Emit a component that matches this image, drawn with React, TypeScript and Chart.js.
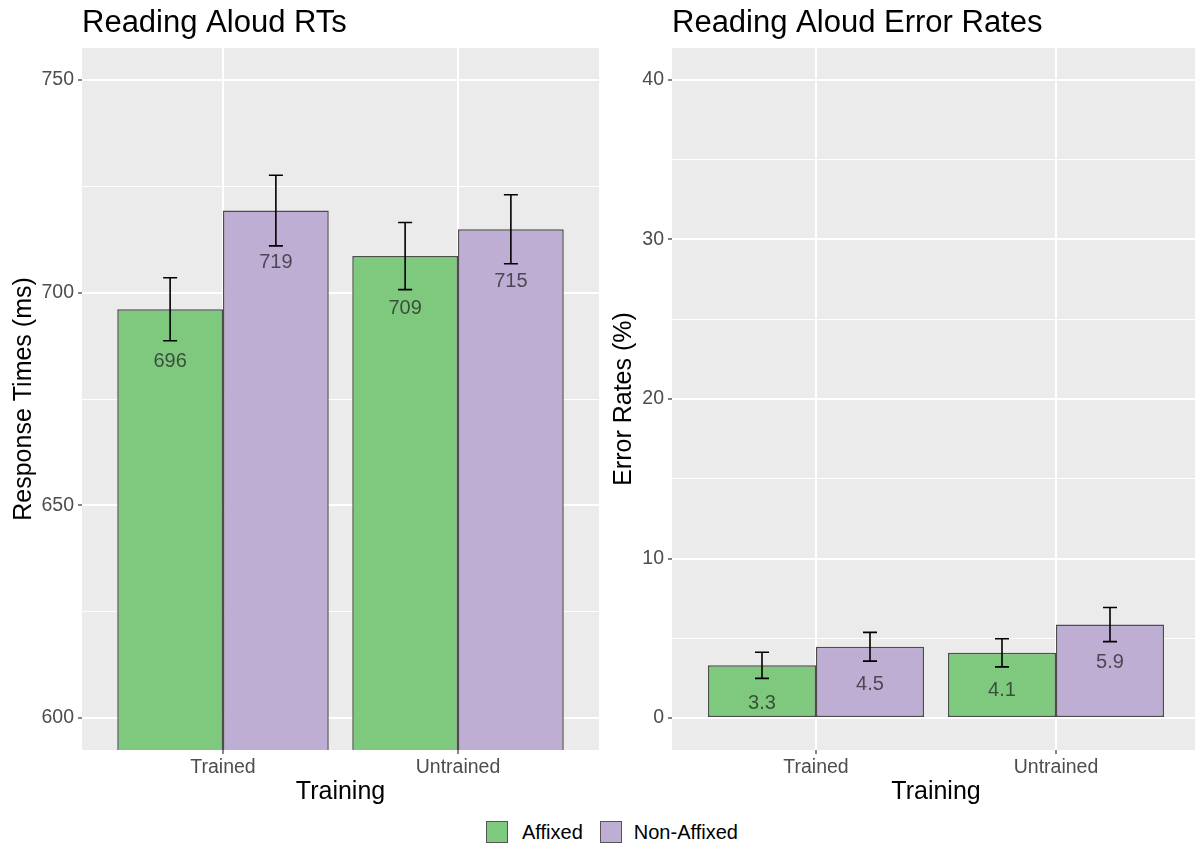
import React, { useEffect, useRef } from 'react';
import { Chart, registerables } from 'chart.js';

Chart.register(...registerables);

// ---------- data ----------
const categories = ['Trained', 'Untrained'];
const seriesNames = ['Affixed', 'Non-Affixed'];
const seriesColors = ['#7FC97F', '#BEAED4'];

const rtAffixed = [696.1, 708.6];
const rtNonAffixed = [719.3, 714.9];
const rtAffixedSE = [7.4, 7.9];
const rtNonAffixedSE = [8.3, 8.1];
const rtTicks = [600, 625, 650, 675, 700, 725, 750];
const rtMajorTicks = [600, 650, 700, 750];

const errAffixed = [3.31, 4.09];
const errNonAffixed = [4.47, 5.86];
const errAffixedSE = [0.82, 0.88];
const errNonAffixedSE = [0.9, 1.07];
const errTicks = [0, 5, 10, 15, 20, 25, 30, 35, 40];
const errMajorTicks = [0, 10, 20, 30, 40];

const FONT = "'Liberation Sans', Arial, sans-serif";

// ---------- plugins ----------
const panelBg = {
  id: 'panelBg',
  beforeDraw(chart: any) {
    const { ctx, chartArea: a } = chart;
    ctx.save();
    ctx.fillStyle = '#EBEBEB';
    ctx.fillRect(a.left, a.top, a.right - a.left, a.bottom - a.top);
    ctx.restore();
  },
};

const errorBars = {
  id: 'errorBars',
  afterDatasetsDraw(chart: any, _args: any, opts: any) {
    const { ctx } = chart;
    const yScale = chart.scales.y;
    const a = chart.chartArea;
    chart.data.datasets.forEach((ds: any, i: number) => {
      const meta = chart.getDatasetMeta(i);
      meta.data.forEach((el: any, j: number) => {
        const v = ds.data[j].y;
        const e = ds.errors[j];
        const x = el.x;
        const yTop = yScale.getPixelForValue(v + e);
        const yBot = yScale.getPixelForValue(v - e);
        ctx.save();
        ctx.beginPath();
        ctx.rect(a.left, a.top, a.right - a.left, a.bottom - a.top);
        ctx.clip();
        ctx.strokeStyle = '#000';
        ctx.lineWidth = 1.6;
        ctx.beginPath();
        ctx.moveTo(x, yTop);
        ctx.lineTo(x, yBot);
        ctx.moveTo(x - 7, yTop);
        ctx.lineTo(x + 7, yTop);
        ctx.moveTo(x - 7, yBot);
        ctx.lineTo(x + 7, yBot);
        ctx.stroke();
        ctx.fillStyle = 'rgba(30,30,30,0.72)';
        ctx.font = `20px ${FONT}`;
        ctx.textAlign = 'center';
        ctx.textBaseline = 'middle';
        ctx.fillText(v.toFixed(opts.decimals), x, el.y + opts.offset);
        ctx.restore();
      });
    });
  },
};

function makeConfig(p: any) {
  const datasets = [
    { values: p.a, errors: p.aSE },
    { values: p.b, errors: p.bSE },
  ].map((s, i) => ({
    label: seriesNames[i],
    data: s.values.map((v: number, j: number) => ({ x: j, y: v })),
    errors: s.errors,
    backgroundColor: seriesColors[i],
    borderColor: '#4D4D4D',
    borderWidth: 1.5,
    borderSkipped: p.skip,
    categoryPercentage: 0.9,
    barPercentage: 1.0,
  }));
  return {
    type: 'bar',
    data: { datasets },
    plugins: [panelBg, errorBars],
    options: {
      responsive: false,
      animation: false,
      layout: { padding: { top: 0, left: 0, right: p.padRight, bottom: 0 } },
      plugins: {
        legend: { display: false },
        tooltip: { enabled: false },
        title: {
          display: true,
          text: p.title,
          align: 'start',
          fullSize: false,
          color: '#000',
          font: { family: FONT, size: 31, weight: 'normal' },
          padding: { top: 5, bottom: 5.8 },
        },
        errorBars: { decimals: p.decimals, offset: p.labelOffset },
      },
      scales: {
        x: {
          type: 'linear',
          min: -0.6,
          max: 1.6,
          offset: false,
          afterBuildTicks: (s: any) => {
            s.ticks = categories.map((_, i) => ({ value: i }));
          },
          afterFit: (s: any) => {
            s.height = 60;
          },
          ticks: {
            autoSkip: false,
            maxRotation: 0,
            padding: 2,
            color: '#4D4D4D',
            font: { family: FONT, size: 19.5 },
            callback: (v: number) => categories[v] ?? '',
          },
          grid: {
            offset: false,
            color: '#FFFFFF',
            lineWidth: 2,
            drawTicks: true,
            tickLength: 4,
            tickColor: '#333333',
            tickWidth: 1.2,
          },
          border: { display: false },
          title: {
            display: true,
            text: 'Training',
            color: '#000',
            font: { family: FONT, size: 25 },
            padding: { top: 0, bottom: 3 },
          },
        },
        y: {
          type: 'linear',
          min: p.yMin,
          max: p.yMax,
          afterBuildTicks: (s: any) => {
            s.ticks = p.ticks.map((v: number) => ({ value: v }));
          },
          afterFit: (s: any) => {
            s.width = p.yWidth;
          },
          ticks: {
            autoSkip: false,
            padding: 4,
            color: '#4D4D4D',
            font: { family: FONT, size: 19.5 },
            callback: (v: number) => (p.major.includes(v) ? String(v) : ''),
          },
          grid: {
            color: '#FFFFFF',
            lineWidth: (c: any) => (c.tick && p.major.includes(c.tick.value) ? 2 : 1),
            drawTicks: true,
            tickLength: 4,
            tickColor: (c: any) =>
              c.tick && p.major.includes(c.tick.value) ? '#333333' : 'rgba(0,0,0,0)',
            tickWidth: 1.2,
          },
          border: { display: false },
          title: {
            display: true,
            text: p.yTitle,
            color: '#000',
            font: { family: FONT, size: 25 },
            padding: { top: p.yTitlePad, bottom: 0 },
          },
        },
      },
    },
  };
}

function BarPanel(props: { config: any; width: number; height: number; left: number }) {
  const ref = useRef<HTMLCanvasElement>(null);
  useEffect(() => {
    if (!ref.current) return;
    const chart = new Chart(ref.current, props.config);
    return () => chart.destroy();
  }, []);
  return (
    <canvas
      ref={ref}
      width={props.width}
      height={props.height}
      style={{ position: 'absolute', left: props.left, top: 0, width: props.width, height: props.height }}
    />
  );
}

const rtConfig = makeConfig({
  a: rtAffixed,
  b: rtNonAffixed,
  aSE: rtAffixedSE,
  bSE: rtNonAffixedSE,
  title: 'Reading Aloud RTs',
  yTitle: 'Response Times (ms)',
  yMin: 592.5,
  yMax: 757.5,
  ticks: rtTicks,
  major: rtMajorTicks,
  yWidth: 82,
  yTitlePad: 9,
  padRight: 6,
  decimals: 0,
  labelOffset: 52,
  skip: 'start',
});

const errConfig = makeConfig({
  a: errAffixed,
  b: errNonAffixed,
  aSE: errAffixedSE,
  bSE: errNonAffixedSE,
  title: 'Reading Aloud Error Rates',
  yTitle: 'Error Rates (%)',
  yMin: -2,
  yMax: 42,
  ticks: errTicks,
  major: errMajorTicks,
  yWidth: 77,
  yTitlePad: 14,
  padRight: 5,
  decimals: 1,
  labelOffset: 38,
  skip: false,
});

export default function App() {
  useEffect(() => {
    document.body.style.margin = '0';
  }, []);
  const keyStyle = (c: string) => ({
    width: 22,
    height: 22,
    boxSizing: 'border-box' as const,
    border: '1.5px solid #555555',
    background: c,
  });
  return (
    <div
      style={{
        position: 'relative',
        width: 1195,
        height: 845,
        overflow: 'hidden',
        background: '#FFFFFF',
        fontFamily: FONT,
      }}
    >
      <BarPanel config={rtConfig} width={605} height={810} left={0} />
      <BarPanel config={errConfig} width={610} height={810} left={595} />
      <div
        style={{
          position: 'absolute',
          left: 486,
          top: 821,
          height: 22,
          display: 'flex',
          alignItems: 'center',
          fontSize: 20,
          color: '#000',
          lineHeight: '22px',
        }}
      >
        <div style={keyStyle(seriesColors[0])} />
        <span style={{ marginLeft: 14, marginRight: 17 }}>{seriesNames[0]}</span>
        <div style={keyStyle(seriesColors[1])} />
        <span style={{ marginLeft: 12 }}>{seriesNames[1]}</span>
      </div>
    </div>
  );
}
